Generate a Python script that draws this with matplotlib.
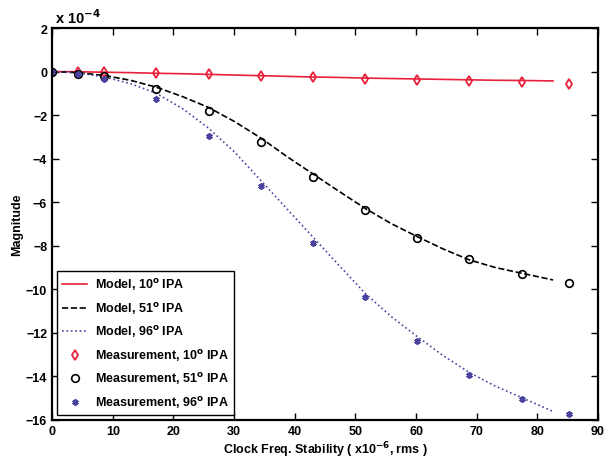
import matplotlib.pyplot as plt

plt.rcParams['font.family'] = ['Liberation Sans', 'DejaVu Sans']
plt.rcParams['font.weight'] = 'bold'
plt.rcParams['mathtext.default'] = 'bf'

# model curves (magnitude in units of 1e-4)
x_model = [0, 4.3, 8.6, 12.9, 17.2, 21.5, 25.8, 30.1, 34.4, 38.7, 43.0,
           47.3, 51.6, 55.9, 60.2, 64.5, 68.8, 73.1, 77.4, 82.6]
model_10 = [0, -0.01, -0.03, -0.05, -0.08, -0.10, -0.13, -0.16, -0.19, -0.22, -0.25,
            -0.27, -0.30, -0.32, -0.34, -0.36, -0.38, -0.40, -0.41, -0.43]
model_51 = [0, -0.05, -0.18, -0.40, -0.72, -1.15, -1.65, -2.30, -3.05, -3.90, -4.70,
            -5.50, -6.28, -6.98, -7.58, -8.15, -8.65, -9.00, -9.26, -9.57]
model_96 = [0, -0.06, -0.25, -0.55, -1.00, -1.70, -2.60, -3.70, -5.00, -6.30, -7.60,
            -8.90, -10.18, -11.25, -12.17, -13.05, -13.82, -14.45, -14.97, -15.61]

# measurements
x_meas = [0, 4.3, 8.6, 17.2, 25.8, 34.4, 43.0, 51.6, 60.2, 68.8, 77.4, 85.3]
meas_10 = [0, 0.0, -0.02, -0.06, -0.13, -0.20, -0.27, -0.33, -0.40, -0.45, -0.50, -0.57]
meas_51 = [0, -0.12, -0.21, -0.79, -1.80, -3.22, -4.83, -6.37, -7.64, -8.59, -9.28, -9.71]
meas_96 = [0, -0.10, -0.32, -1.28, -2.95, -5.24, -7.87, -10.33, -12.38, -13.94, -15.04, -15.73]

red = '#e8203a'
blue = '#4a44a0'

fig = plt.figure(figsize=(6.13, 4.64), dpi=100)
ax = fig.add_axes([0.085, 0.0927, 0.8905, 0.8448])

ax.plot(x_model, model_10, '-', color=red, lw=1.2, label='Model, 10$^{o}$ IPA')
ax.plot(x_model, model_51, '--', color='black', lw=1.2, label='Model, 51$^{o}$ IPA')
ax.plot(x_model, model_96, ':', color=blue, lw=1.2, label='Model, 96$^{o}$ IPA')
ax.plot(x_meas, meas_10, 'd', color=red, mfc='none', mew=1.3, ms=5, label='Measurement, 10$^{o}$ IPA')
ax.plot(x_meas, meas_51, 'o', color='black', mfc='none', mew=1.2, ms=5.5, label='Measurement, 51$^{o}$ IPA')
ax.plot(x_meas, meas_96, marker=(6, 2, 0), ls='none', color=blue, mew=1.4, ms=4.5, label='Measurement, 96$^{o}$ IPA')

ax.set_xlim(0, 90)
ax.set_ylim(-16, 2)
ax.set_xticks(range(0, 91, 10))
ax.set_yticks(range(-16, 3, 2))
ax.tick_params(direction='in', top=True, right=True, labelsize=9, width=1, length=5)
for s in ax.spines.values():
    s.set_linewidth(1.6)

ax.text(0.005, 1.005, 'x 10$^{-4}$', transform=ax.transAxes, fontsize=10.5,
        fontweight='bold', va='bottom')
ax.set_xlabel('Clock Freq. Stability ( x10$^{-6}$, rms )', fontsize=9, fontweight='bold', labelpad=2)
ax.set_ylabel('Magnitude', fontsize=9, fontweight='bold', labelpad=2)

leg = ax.legend(loc='lower left', prop={'size': 9, 'weight': 'bold'}, fancybox=False,
                edgecolor='black', framealpha=1, borderaxespad=0.4, handlelength=2.0,
                handletextpad=0.6, labelspacing=0.6)
leg.get_frame().set_linewidth(1.0)

fig.savefig('out.png', dpi=100)
